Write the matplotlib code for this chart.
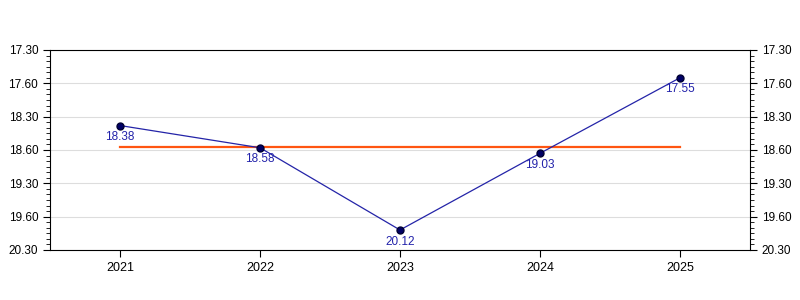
import matplotlib
matplotlib.use("Agg")
from matplotlib import pyplot as plt
import numpy as np

# times are given as minutes.seconds
years = [2021, 2022, 2023, 2024, 2025]
times = ["18.38", "18.58", "20.12", "19.03", "17.55"]
tick_secs = [1050, 1080, 1110, 1140, 1170, 1200, 1230]
tick_labels = ["17.30", "17.60", "18.30", "18.60", "19.30", "19.60", "20.30"]


def to_sec(t):
    m, s = t.split(".")
    return int(m) * 60 + int(s)


secs = np.array([to_sec(t) for t in times])
mean_sec = secs.mean()

plt.rcParams["font.family"] = ["Liberation Sans", "DejaVu Sans"]

fig = plt.figure(figsize=(8, 3), dpi=100)
ax = fig.add_axes([0.0625, 0.1667, 0.875, 0.6667])

ax.plot([years[0], years[-1]], [mean_sec, mean_sec], color="#ff5511", lw=1.6, zorder=2)
ax.plot(years, secs, color="#2424a8", lw=0.9, marker="o", markersize=5,
        markerfacecolor="#000066", markeredgecolor="#000033", zorder=3)

for x, y, t in zip(years, secs, times):
    ax.annotate(t, (x, y), xytext=(0, -4), textcoords="offset points",
                ha="center", va="top", fontsize=8.5, color="#2222aa")

ax.set_xlim(2020.5, 2025.5)
ax.set_ylim(1230, 1050)
ax.set_xticks(years)
ax.set_xticklabels([str(y) for y in years])
ax.set_yticks(tick_secs)
ax.set_yticklabels(tick_labels)
ax.set_yticks(np.arange(1050, 1231, 5), minor=True)

ax.grid(True, axis="y", color="#dddddd", lw=0.8)
ax.set_axisbelow(True)
ax.tick_params(axis="both", which="major", labelsize=8.5, length=5, direction="out")
ax.tick_params(axis="x", labelsize=9)
ax.tick_params(axis="y", which="both", left=True, right=True, labelleft=True, labelright=True)
ax.tick_params(axis="y", which="minor", length=3)

fig.savefig("out.png", dpi=100)
